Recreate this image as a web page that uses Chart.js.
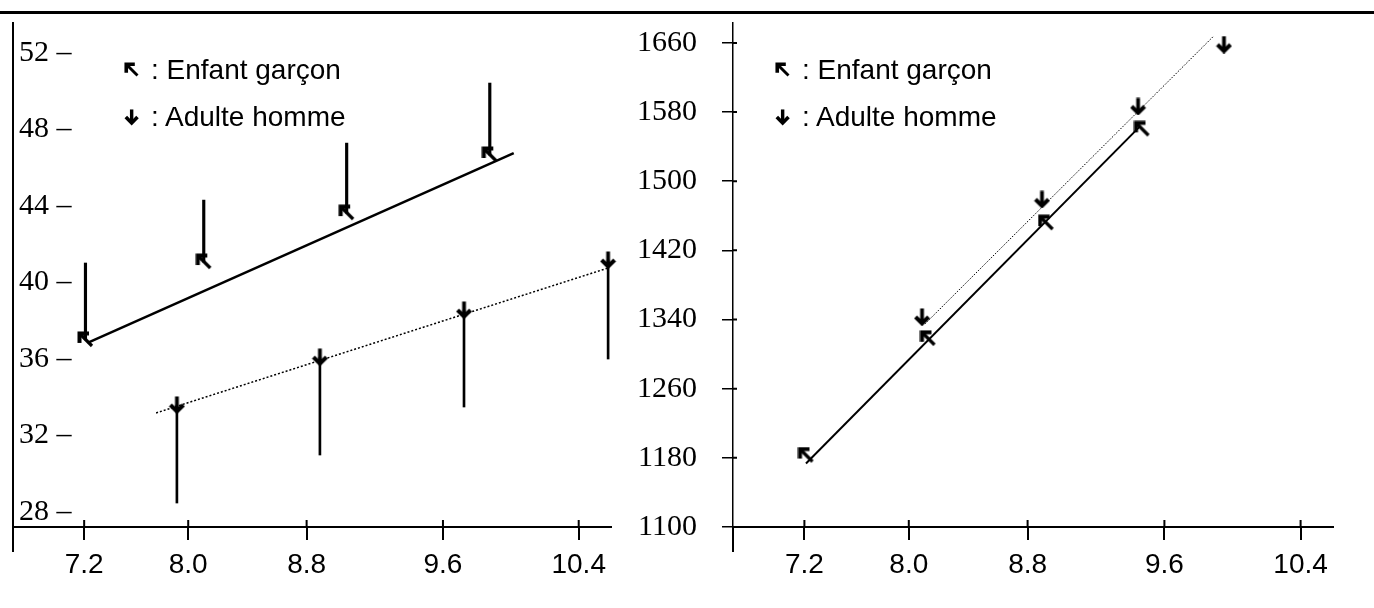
<!DOCTYPE html>
<html lang="fr">
<head>
<meta charset="UTF-8">
<title>Enfant garçon / Adulte homme</title>
<script src="https://cdn.jsdelivr.net/npm/chart.js@4"></script>
<style>
  html, body { margin: 0; padding: 0; background: #fff; }
  body { width: 1374px; height: 608px; position: relative; overflow: hidden; font-family: "Liberation Sans", Arial, sans-serif; }
  .rule { position: absolute; left: 0; top: 11px; width: 1374px; height: 3px; background: #000; }
  canvas.panel { position: absolute; top: 0; }
  #left { left: 0; }
  #right { left: 620px; }
  .key { position: absolute; display: flex; align-items: center; font-size: 28px; line-height: 28px; color: #000; white-space: nowrap; }
  .key canvas { margin-right: 10px; }
</style>
</head>
<body>
<div class="rule"></div>
<canvas id="left" class="panel" width="620" height="608"></canvas>
<canvas id="right" class="panel" width="754" height="608"></canvas>

<div class="key" style="left:123px;top:56px"><canvas class="ico" data-kind="child" width="18" height="18"></canvas><span>: Enfant garçon</span></div>
<div class="key" style="left:123px;top:103px"><canvas class="ico" data-kind="adult" width="18" height="18"></canvas><span>: Adulte homme</span></div>
<div class="key" style="left:774px;top:56px"><canvas class="ico" data-kind="child" width="18" height="18"></canvas><span>: Enfant garçon</span></div>
<div class="key" style="left:774px;top:103px"><canvas class="ico" data-kind="adult" width="18" height="18"></canvas><span>: Adulte homme</span></div>

<script>
// --- axes ---
const xTicks = [7.2, 8.0, 8.8, 9.6, 10.4];
// the original x axis is not evenly graduated: value -> share of axis length
const xKnots = [6.653, 7.2, 8.0, 8.8, 9.6, 10.4, 10.59];
const xKnotPos = [0, 0.119, 0.293, 0.491, 0.719, 0.946, 1];
const leftYTicks = [28, 32, 36, 40, 44, 48, 52];
const rightYTicks = [1100, 1180, 1260, 1340, 1420, 1500, 1580, 1660];

// --- left panel ---
const leftChildX = [7.21, 8.105, 9.035, 9.876];
const leftChildY = [37.0, 41.07, 43.63, 46.67];
const leftChildTop = [41.02, 44.31, 47.29, 50.43];
const leftAdultX = [7.913, 8.878, 9.724, 10.573];
const leftAdultY = [33.6, 36.1, 38.56, 41.18];
const leftAdultLow = [28.47, 30.98, 33.49, 36.0];
const leftChildFitX = [7.226, 10.017];
const leftChildFitY = [36.84, 46.77];
const leftAdultFitX = [7.753, 10.573];
const leftAdultFitY = [33.18, 40.76];

// --- right panel ---
const rightChildX = [7.212, 8.129, 8.908, 9.469];
const rightChildY = [1182.7, 1317.7, 1451.5, 1560];
const rightAdultX = [8.089, 8.884, 9.446, 9.95];
const rightAdultY = [1343, 1479, 1586.5, 1658];
const rightChildFitX = [7.212, 9.457];
const rightChildFitY = [1173.4, 1563.4];
const rightAdultFitX = [8.109, 9.885];
const rightAdultFitY = [1335, 1667];

const pts = (xs, ys) => xs.map((x, i) => ({ x: x, y: ys[i] }));
const spans = (xs, a, b) => xs.map((x, i) => ({ x: x, y: [a[i], b[i]] }));

// piecewise linear x scale
function warp(v) {
  let i = 0;
  while (i < xKnots.length - 2 && v > xKnots[i + 1]) i++;
  return xKnotPos[i] + (v - xKnots[i]) / (xKnots[i + 1] - xKnots[i]) * (xKnotPos[i + 1] - xKnotPos[i]);
}
function unwarp(d) {
  let i = 0;
  while (i < xKnotPos.length - 2 && d > xKnotPos[i + 1]) i++;
  return xKnots[i] + (d - xKnotPos[i]) / (xKnotPos[i + 1] - xKnotPos[i]) * (xKnots[i + 1] - xKnots[i]);
}
class WarpScale extends Chart.LinearScale {
  getPixelForValue(v) { return this.getPixelForDecimal(warp(v)); }
  getValueForPixel(p) { return unwarp(this.getDecimalForPixel(p)); }
}
WarpScale.id = 'warp';
WarpScale.defaults = Chart.LinearScale.defaults;
Chart.register(WarpScale);

// marker glyphs
function drawIcon(ctx, kind) {
  ctx.strokeStyle = '#000';
  ctx.lineJoin = 'miter';
  ctx.lineCap = 'butt';
  ctx.beginPath();
  if (kind === 'child') {
    ctx.lineWidth = 4;
    ctx.moveTo(2.5, 12); ctx.lineTo(2.5, 2.5); ctx.lineTo(12, 2.5);
    ctx.stroke();
    ctx.beginPath();
    ctx.lineWidth = 3.2;
    ctx.moveTo(3, 3); ctx.lineTo(15, 15);
    ctx.stroke();
  } else {
    ctx.lineWidth = 3.8;
    ctx.moveTo(8.5, 0.5); ctx.lineTo(8.5, 15);
    ctx.stroke();
    ctx.beginPath();
    ctx.lineWidth = 4;
    ctx.moveTo(2, 9); ctx.lineTo(8.5, 15.5); ctx.lineTo(15, 9);
    ctx.stroke();
  }
}
function makeIcon(kind) {
  const c = document.createElement('canvas');
  c.width = 17; c.height = 18;
  drawIcon(c.getContext('2d'), kind);
  return c;
}
const childIcon = makeIcon('child');
const adultIcon = makeIcon('adult');

document.querySelectorAll('canvas.ico').forEach(c => {
  const ctx = c.getContext('2d');
  ctx.translate(1, 1);
  ctx.scale(0.9, 0.9);
  drawIcon(ctx, c.dataset.kind);
});

// y axis running on below the x axis, and x ticks crossing the axis
const crossTicks = {
  id: 'crossTicks',
  afterDraw(chart, args, opts) {
    const { ctx, chartArea: a, scales: { x, y } } = chart;
    ctx.save();
    ctx.strokeStyle = '#000';
    ctx.lineWidth = 2;
    ctx.beginPath();
    ctx.moveTo(a.left, a.bottom);
    ctx.lineTo(a.left, a.bottom + 25);
    x.ticks.forEach(t => {
      const px = x.getPixelForValue(t.value);
      ctx.moveTo(px, a.bottom - 7);
      ctx.lineTo(px, a.bottom);
    });
    if (opts.yStub) {
      y.ticks.forEach(t => {
        const py = y.getPixelForValue(t.value);
        ctx.moveTo(a.left, py);
        ctx.lineTo(a.left + 4, py);
      });
    }
    ctx.stroke();
    ctx.restore();
  }
};

function noPad(s) {
  s.paddingTop = 0; s.paddingBottom = 0;
}

function xScale() {
  return {
    type: 'warp',
    min: xKnots[0],
    max: xKnots[xKnots.length - 1],
    offset: false,
    afterBuildTicks: s => { s.ticks = xTicks.map(v => ({ value: v })); },
    afterFit: s => { s.height = 56; s.paddingLeft = 0; s.paddingRight = 0; },
    ticks: {
      autoSkip: false, maxRotation: 0, padding: 8, color: '#000',
      font: { family: 'Liberation Sans', size: 28 },
      callback: v => v.toFixed(1)
    },
    grid: { offset: false, drawOnChartArea: false, tickLength: 13, lineWidth: 2, color: '#000' },
    border: { color: '#000', width: 2 }
  };
}

function markerSet(data, icon) {
  return { type: 'line', data: data, showLine: false, pointStyle: icon, pointRadius: 8, pointHoverRadius: 8, clip: false, order: 0 };
}
function fitSet(data, width, dash) {
  return { type: 'line', data: data, borderColor: '#000', borderWidth: width, borderDash: dash, pointRadius: 0, tension: 0, fill: false, clip: false, order: 1 };
}
function spanSet(data, thick) {
  return { type: 'bar', data: data, backgroundColor: '#000', borderWidth: 0, barThickness: thick, grouped: false, order: 2 };
}

const common = {
  responsive: false,
  animation: false,
  events: [],
  plugins: { legend: { display: false }, tooltip: { enabled: false } }
};

new Chart(document.getElementById('left'), {
  type: 'line',
  data: {
    datasets: [
      markerSet(pts(leftChildX, leftChildY), childIcon),
      markerSet(pts(leftAdultX, leftAdultY), adultIcon),
      fitSet(pts(leftChildFitX, leftChildFitY), 2.5, []),
      fitSet(pts(leftAdultFitX, leftAdultFitY), 1.5, [2, 2]),
      spanSet(spans(leftChildX, leftChildY, leftChildTop), 2.5),
      spanSet(spans(leftAdultX, leftAdultLow, leftAdultY), 2)
    ]
  },
  options: Object.assign({}, common, {
    layout: { padding: { left: 13, right: 5, top: 23, bottom: 25 } },
    plugins: Object.assign({}, common.plugins, { crossTicks: { yStub: false } }),
    scales: {
      x: xScale(),
      y: {
        type: 'linear', min: 27.216, max: 53.57,
        afterBuildTicks: s => { s.ticks = leftYTicks.map(v => ({ value: v })); },
        afterFit: s => { s.width = 0; noPad(s); },
        ticks: {
          mirror: true, padding: 6, color: '#000',
          font: { family: 'Liberation Serif', size: 30 },
          callback: v => v + ' \u2013'
        },
        grid: { display: false, drawTicks: false },
        border: { color: '#000', width: 2 }
      }
    }
  }),
  plugins: [crossTicks]
});

new Chart(document.getElementById('right'), {
  type: 'line',
  data: {
    datasets: [
      markerSet(pts(rightChildX, rightChildY), childIcon),
      markerSet(pts(rightAdultX, rightAdultY), adultIcon),
      fitSet(pts(rightChildFitX, rightChildFitY), 2, []),
      fitSet(pts(rightAdultFitX, rightAdultFitY), 1, [1.5, 1.5])
    ]
  },
  options: Object.assign({}, common, {
    layout: { padding: { left: 0, right: 41, top: 23, bottom: 25 } },
    plugins: Object.assign({}, common.plugins, { crossTicks: { yStub: true } }),
    scales: {
      x: xScale(),
      y: {
        type: 'linear', min: 1100, max: 1683,
        afterBuildTicks: s => { s.ticks = rightYTicks.map(v => ({ value: v })); },
        afterFit: s => { s.width = 113; noPad(s); },
        ticks: {
          padding: 25, color: '#000',
          font: { family: 'Liberation Serif', size: 30 },
          callback: v => String(v)
        },
        grid: { drawOnChartArea: false, tickLength: 11, lineWidth: 1.5, color: '#000' },
        border: { color: '#000', width: 1.5 }
      }
    }
  }),
  plugins: [crossTicks]
});
</script>
</body>
</html>
